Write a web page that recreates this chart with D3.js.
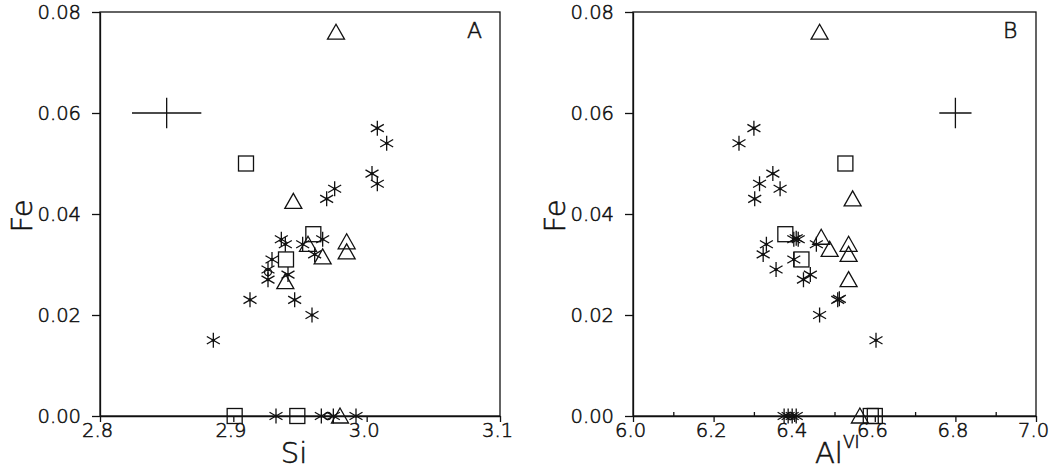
<!DOCTYPE html>
<html>
<head>
<meta charset="utf-8">
<script src="https://cdn.jsdelivr.net/npm/d3@7"></script>
<style>
  body { margin: 0; background: #fff; }
  svg text { font-family: "DejaVu Sans", "Liberation Sans", sans-serif; font-weight: 200; fill: #111; stroke: #111; stroke-width: 0.55; }
  .axis path, .axis line { stroke: #111; stroke-width: 1.3; }
  .mark { fill: none; stroke: #111; stroke-width: 1.3; }
</style>
</head>
<body>
<svg id="chart" width="1057" height="471"></svg>
<script>
// valores: [x, Fe]
const starsA = [
  [2.885, 0.015], [2.9125, 0.023], [2.926, 0.027], [2.926, 0.029], [2.929, 0.031],
  [2.936, 0.035], [2.939, 0.034], [2.941, 0.028], [2.946, 0.023], [2.959, 0.020],
  [2.952, 0.034], [2.961, 0.032], [2.967, 0.035], [2.970, 0.043], [2.976, 0.045],
  [3.004, 0.048], [3.008, 0.057], [3.008, 0.046], [3.015, 0.054],
  [2.932, 0], [2.966, 0], [2.975, 0], [2.992, 0]
];
const squaresA = [[2.9095, 0.050], [2.960, 0.036], [2.9395, 0.031], [2.901, 0], [2.948, 0]];
const trianglesA = [
  [2.977, 0.076], [2.945, 0.0425], [2.956, 0.034], [2.967, 0.0315],
  [2.985, 0.0345], [2.985, 0.0325], [2.939, 0.0266], [2.980, 0]
];
const circlesA = [[2.971, 0], [2.926, 0.0285]];
const errorA = [2.85, 0.060, 0.026, 0.003]; // x, y, dx, dy

const starsB = [
  [6.263, 0.054], [6.300, 0.057], [6.314, 0.046], [6.302, 0.043], [6.347, 0.048],
  [6.365, 0.045], [6.331, 0.034], [6.323, 0.032], [6.355, 0.029], [6.399, 0.035],
  [6.405, 0.0352], [6.410, 0.035], [6.399, 0.031], [6.423, 0.027], [6.440, 0.028],
  [6.455, 0.034], [6.463, 0.020], [6.508, 0.023], [6.512, 0.0232], [6.603, 0.015],
  [6.375, 0], [6.385, 0], [6.395, 0], [6.405, 0]
];
const squaresB = [[6.527, 0.050], [6.378, 0.036], [6.418, 0.031], [6.590, 0], [6.600, 0]];
const trianglesB = [
  [6.463, 0.076], [6.545, 0.043], [6.467, 0.0354], [6.488, 0.033],
  [6.535, 0.034], [6.535, 0.032], [6.535, 0.027], [6.563, 0]
];
const circlesB = [[6.390, 0]];
const errorB = [6.80, 0.060, 0.04, 0.003];

const yTicks = [0, 0.02, 0.04, 0.06, 0.08];
const yLabels = ["0.00", "0.02", "0.04", "0.06", "0.08"];
const xTicksA = [2.8, 2.9, 3.0, 3.1];
const xLabelsA = ["2.8", "2.9", "3.0", "3.1"];
const xTicksB = [6.0, 6.2, 6.4, 6.6, 6.8, 7.0];
const xLabelsB = ["6.0", "6.2", "6.4", "6.6", "6.8", "7.0"];
const xMinorB = [6.1, 6.3, 6.5, 6.7, 6.9];

const svg = d3.select("#chart");
const plotTop = 12, plotBottom = 416;

function starPath(r) {
  let p = "";
  [90, 30, -30].forEach(a => {
    const dx = r * Math.cos(a * Math.PI / 180), dy = r * Math.sin(a * Math.PI / 180);
    p += `M${-dx},${dy}L${dx},${-dy}`;
  });
  return p;
}

function panel(cfg) {
  const x = d3.scaleLinear().domain(cfg.xDomain).range([cfg.left, cfg.right]);
  const y = d3.scaleLinear().domain([0, 0.08]).range([plotBottom, plotTop]);
  const g = svg.append("g");

  // eje Y
  g.append("g").attr("class", "axis")
    .attr("transform", `translate(${cfg.left},0)`)
    .call(d3.axisLeft(y).tickValues(yTicks).tickFormat((d, i) => yLabels[i])
      .tickSize(8).tickPadding(11).tickSizeOuter(0))
    .call(s => s.selectAll("text").attr("font-size", 19.5));

  // eje X
  g.append("g").attr("class", "axis")
    .attr("transform", `translate(0,${plotBottom})`)
    .call(d3.axisBottom(x).tickValues(cfg.xTicks).tickFormat((d, i) => cfg.xLabels[i])
      .tickSize(6).tickPadding(1).tickSizeOuter(0))
    .call(s => s.selectAll("text").attr("font-size", 19.5).attr("dx", "-0.15em"));

  if (cfg.xMinor) {
    g.append("g").attr("class", "axis")
      .attr("transform", `translate(0,${plotBottom})`)
      .call(d3.axisTop(x).tickValues(cfg.xMinor).tickFormat("").tickSize(4).tickSizeOuter(0))
      .call(s => s.select(".domain").remove());
  }

  // marco
  g.append("rect").attr("class", "mark")
    .attr("x", cfg.left).attr("y", plotTop)
    .attr("width", cfg.right - cfg.left).attr("height", plotBottom - plotTop);

  // barra de error
  const e = cfg.error;
  g.append("path").attr("class", "mark")
    .attr("d", `M${x(e[0] - e[2])},${y(e[1])}L${x(e[0] + e[2])},${y(e[1])}` +
               `M${x(e[0])},${y(e[1] - e[3])}L${x(e[0])},${y(e[1] + e[3])}`);

  g.selectAll(".sq").data(cfg.squares).join("rect").attr("class", "mark sq")
    .attr("x", d => x(d[0]) - 7.5).attr("y", d => y(d[1]) - 7.5)
    .attr("width", 15).attr("height", 15);

  g.selectAll(".tri").data(cfg.triangles).join("path").attr("class", "mark tri")
    .attr("transform", d => `translate(${x(d[0])},${y(d[1])})`)
    .attr("d", "M0,-8L-8.5,7L8.5,7Z");

  g.selectAll(".circ").data(cfg.circles).join("circle").attr("class", "mark circ")
    .attr("cx", d => x(d[0])).attr("cy", d => y(d[1])).attr("r", 3.5);

  const st = g.selectAll(".star").data(cfg.stars).join("g").attr("class", "star")
    .attr("transform", d => `translate(${x(d[0])},${y(d[1])})`);
  st.append("path").attr("class", "mark").attr("d", starPath(7.5));
  st.append("circle").attr("r", 1.6).attr("fill", "#111");

  // etiquetas
  g.append("text").attr("x", cfg.tagX).attr("y", 38).attr("font-size", 22).text(cfg.tag);

  g.append("text")
    .attr("transform", `translate(${cfg.left - 68},216) rotate(-90)`)
    .attr("text-anchor", "middle").attr("font-size", 29).text("Fe");

  return { g, x, y };
}

const pA = panel({
  left: 100, right: 500, xDomain: [2.8, 3.1], xTicks: xTicksA, xLabels: xLabelsA,
  stars: starsA, squares: squaresA, triangles: trianglesA, circles: circlesA,
  error: errorA, tag: "A", tagX: 467
});
pA.g.append("text").attr("x", 294).attr("y", 463).attr("text-anchor", "middle")
  .attr("font-size", 29).text("Si");

const pB = panel({
  left: 633, right: 1036, xDomain: [6.0, 7.0], xTicks: xTicksB, xLabels: xLabelsB,
  xMinor: xMinorB, stars: starsB, squares: squaresB, triangles: trianglesB,
  circles: circlesB, error: errorB, tag: "B", tagX: 1003
});
const alt = pB.g.append("text").attr("x", 815).attr("y", 463).attr("font-size", 29);
alt.append("tspan").text("Al");
alt.append("tspan").attr("font-size", 17).attr("dy", -15).text("VI");
</script>
</body>
</html>
